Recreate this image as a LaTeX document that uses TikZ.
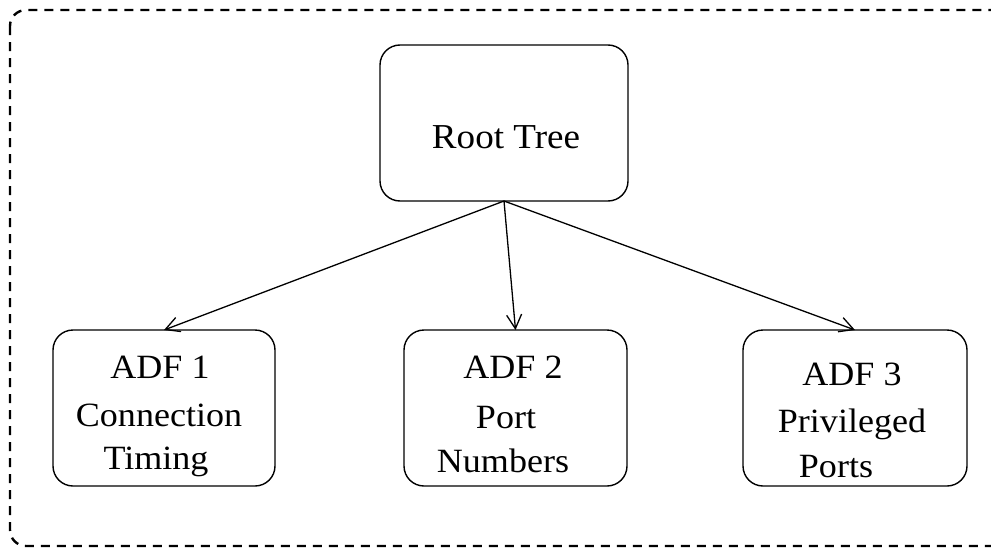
\documentclass[tikz,border=0pt]{standalone}
\usepackage{fontspec}
\setmainfont{Liberation Serif}[FakeStretch=1.06]
\usetikzlibrary{arrows.meta}
\begin{document}
\begin{tikzpicture}[x=1pt,y=-1pt,
  box/.style={draw, rounded corners=20pt, line width=1.4pt, outer sep=0pt, inner sep=0pt, minimum height=156pt},
  lbl/.style={anchor=base, inner sep=0pt, font=\fontsize{34}{40}\selectfont},
  conn/.style={line width=1.3pt, -{Straight Barb[length=14pt,width=15pt,line width=1.3pt]}},
  frame/.style={line width=2.4pt, dash pattern=on 9pt off 7pt, rounded corners=16pt}]
\useasboundingbox (0,0) rectangle (991,549);
\clip (0,0) rectangle (991,549);
\draw[frame] (10,10) rectangle (1010,546);

\node[box, minimum width=248pt] (root) at (504,123) {};
\node[box, minimum width=222pt] (adf1) at (164,408) {};
\node[box, minimum width=223pt] (adf2) at (515.5,408) {};
\node[box, minimum width=224pt] (adf3) at (855,408) {};

\node[lbl, font=\fontsize{35}{40}\selectfont] (troot) at (506,148) {Root Tree};

\node[lbl] (t1a) at (160,378) {ADF 1};
\node[lbl] (t1b) at (159,426) {Connection};
\node[lbl] (t1c) at (156,469) {Timing};

\node[lbl] (t2a) at (513,378) {ADF 2};
\node[lbl] (t2b) at (506,428) {Port};
\node[lbl] (t2c) at (503,472) {Numbers};

\node[lbl] (t3a) at (852,385) {ADF 3};
\node[lbl] (t3b) at (852,432) {Privileged};
\node[lbl] (t3c) at (836,477) {Ports};

\draw[conn] (root.south) -- (adf1.north);
\draw[conn] (root.south) -- (adf2.north);
\draw[conn] (root.south) -- (adf3.north);
\end{tikzpicture}
\end{document}
